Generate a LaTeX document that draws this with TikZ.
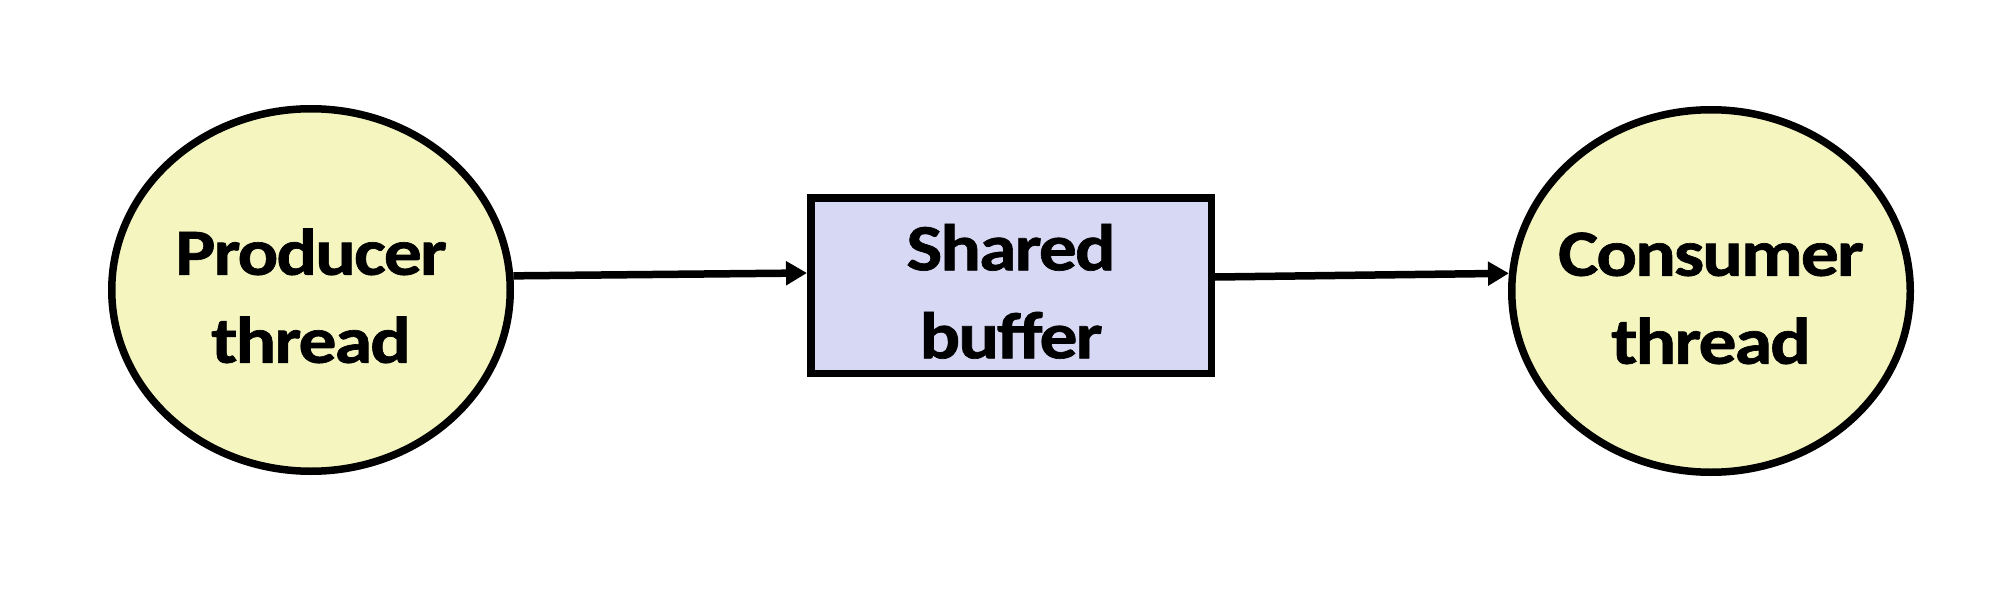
\documentclass[tikz,border=0pt]{standalone}
\usepackage{fontspec}
\newfontfamily\labelfont[FakeStretch=1.15,FakeBold=1,LetterSpace=-3]{Carlito}
\usetikzlibrary{arrows.meta,shapes.geometric}
\definecolor{threadfill}{RGB}{245,245,192}
\definecolor{bufferfill}{RGB}{214,216,244}
\newcommand{\ctr}[1]{\makebox[0pt][c]{#1}}
\tikzset{
  lbl/.style={font=\labelfont\bfseries\fontsize{66}{88}\selectfont, align=center, text=black},
  threadnode/.style={lbl, ellipse, draw=black, line width=7.5pt, fill=threadfill,
    minimum width=398.5pt, minimum height=362.5pt, inner sep=0pt},
  buffernode/.style={lbl, rectangle, draw=black, line width=7.5pt, fill=bufferfill,
    minimum width=400.5pt, minimum height=175.5pt, inner sep=0pt},
  flow/.style={line width=7.5pt, -{Triangle[length=21pt,width=23pt]}}
}
\begin{document}
\begin{tikzpicture}[x=1pt,y=-1pt]
\useasboundingbox (0,0) rectangle (2016,594);
\node[threadnode] (prod) at (311,290) {\rule{0pt}{58pt}\ctr{Producer}\\\ctr{thread}};
\node[buffernode] (buf) at (1011,285.5) {\rule{0pt}{58pt}\ctr{Shared}\\\ctr{buffer}};
\node[threadnode] (cons) at (1711,291) {\rule{0pt}{58pt}\ctr{Consumer}\\\ctr{thread}};
\draw[flow] (prod.4) -- ([yshift=12.5pt]buf.west);
\draw[flow] ([yshift=8.5pt]buf.east) -- (cons.175);
\end{tikzpicture}
\end{document}
